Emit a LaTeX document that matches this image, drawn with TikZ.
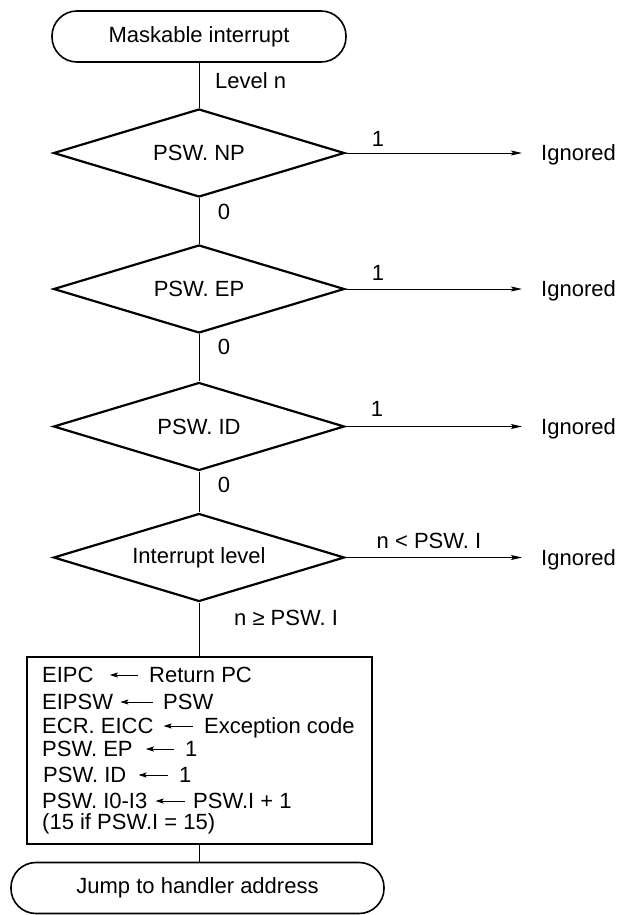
\documentclass[tikz,border=0pt]{standalone}
\usepackage{fontspec}
\setmainfont{Liberation Sans}
\usetikzlibrary{shapes.geometric,arrows.meta}
\begin{document}
\begin{tikzpicture}[x=1pt,y=-1pt,
  font=\fontsize{22}{26}\selectfont,
  term/.style={draw, line width=1.6pt, rounded corners=25pt, minimum height=51pt, inner sep=0pt},
  dec/.style={draw, diamond, line width=2.2pt, minimum width=291pt, minimum height=88pt, shape aspect=3.3, inner sep=0pt},
  stepbox/.style={draw, line width=1.6pt, inner sep=0pt},
  conn/.style={line width=1pt},
  arr/.style={conn, -{Stealth[length=11pt,width=5pt,inset=2pt]}},
  inarr/.style={line width=1pt, -{Stealth[length=8pt,width=5pt,inset=1.5pt]}},
  lbl/.style={inner sep=0pt, text height=15.5pt, text depth=0pt}
]
\useasboundingbox (0,0) rectangle (618,915);

% main flow
\node[term, minimum width=294pt] (start) at (199,36.5) {Maskable interrupt};
\node[dec] (np) at (199,153) {PSW. NP};
\node[dec] (ep) at (199,289) {PSW. EP};
\node[dec] (id) at (199,426.5) {PSW. ID};
\node[dec] (il) at (199,557.5) {Interrupt level};
\node[stepbox, minimum width=345pt, minimum height=187pt] (box) at (199.5,750.5) {};
\node[term, minimum width=373pt] (end) at (197.5,888) {Jump to handler address};

% Ignored outputs
\node[lbl, anchor=west] (ig1) at (541,153) {Ignored};
\node[lbl, anchor=west] (ig2) at (541,289) {Ignored};
\node[lbl, anchor=west] (ig3) at (541,426.5) {Ignored};
\node[lbl, anchor=west] (ig4) at (541,557.5) {Ignored};

% connectors
\draw[conn] (start.south) -- (np.north);
\draw[conn] (np.south) -- (ep.north);
\draw[conn] (ep.south) -- (id.north);
\draw[conn] (id.south) -- (il.north);
\draw[conn] (il.south) -- (il.south |- box.north);
\draw[conn] (il.south |- box.south) -- (il.south |- end.north);
\draw[arr, shorten >=19pt] (np.east) -- (ig1.west);
\draw[arr, shorten >=19pt] (ep.east) -- (ig2.west);
\draw[arr, shorten >=19pt] (id.east) -- (ig3.west);
\draw[arr, shorten >=19pt] (il.east) -- (ig4.west);

% branch labels
\node[lbl, anchor=west] (lvl) at (215,81) {Level n};
\node[lbl] (o1) at (378,139) {1};
\node[lbl] (z1) at (224,212) {0};
\node[lbl] (o2) at (378,273) {1};
\node[lbl] (z2) at (224,347) {0};
\node[lbl] (o3) at (377,409) {1};
\node[lbl] (z3) at (224,485) {0};
\node[lbl] (nlt) at (429,541) {n < PSW. I};
\node[lbl, anchor=west] (nge) at (234,618) {n ≥ PSW. I};

% box contents
\node[lbl, anchor=west] (r1a) at (42,675) {EIPC};
\node[lbl, anchor=west] (r1b) at (149,675) {Return PC};
\node[lbl, anchor=west] (r2a) at (42,702) {EIPSW};
\node[lbl, anchor=west] (r2b) at (163,702) {PSW};
\node[lbl, anchor=west] (r3a) at (42,726) {ECR. EICC};
\node[lbl, anchor=west] (r3b) at (204,726) {Exception code};
\node[lbl, anchor=west] (r4a) at (42,749) {PSW. EP};
\node[lbl, anchor=west] (r4b) at (185,749) {1};
\node[lbl, anchor=west] (r5a) at (43,775) {PSW. ID};
\node[lbl, anchor=west] (r5b) at (179,775) {1};
\node[lbl, anchor=west] (r6a) at (42,801) {PSW. I0-I3};
\node[lbl, anchor=west] (r6b) at (193,801) {PSW.I + 1};
\node[lbl, anchor=west] (r7) at (42,822) {(15 if PSW.I = 15)};

\draw[inarr, shorten <=11pt, shorten >=16pt] (r1b.west) -- (r1a.east);
\draw[inarr, shorten <=10pt, shorten >=7pt] (r2b.west) -- (r2a.east);
\draw[inarr, shorten <=11pt, shorten >=10pt] (r3b.west) -- (r3a.east);
\draw[inarr, shorten <=11pt, shorten >=13pt] (r4b.west) -- (r4a.east);
\draw[inarr, shorten <=11pt, shorten >=12pt] (r5b.west) -- (r5a.east);
\draw[inarr, shorten <=8pt, shorten >=8pt] (r6b.west) -- (r6a.east);
\end{tikzpicture}
\end{document}
